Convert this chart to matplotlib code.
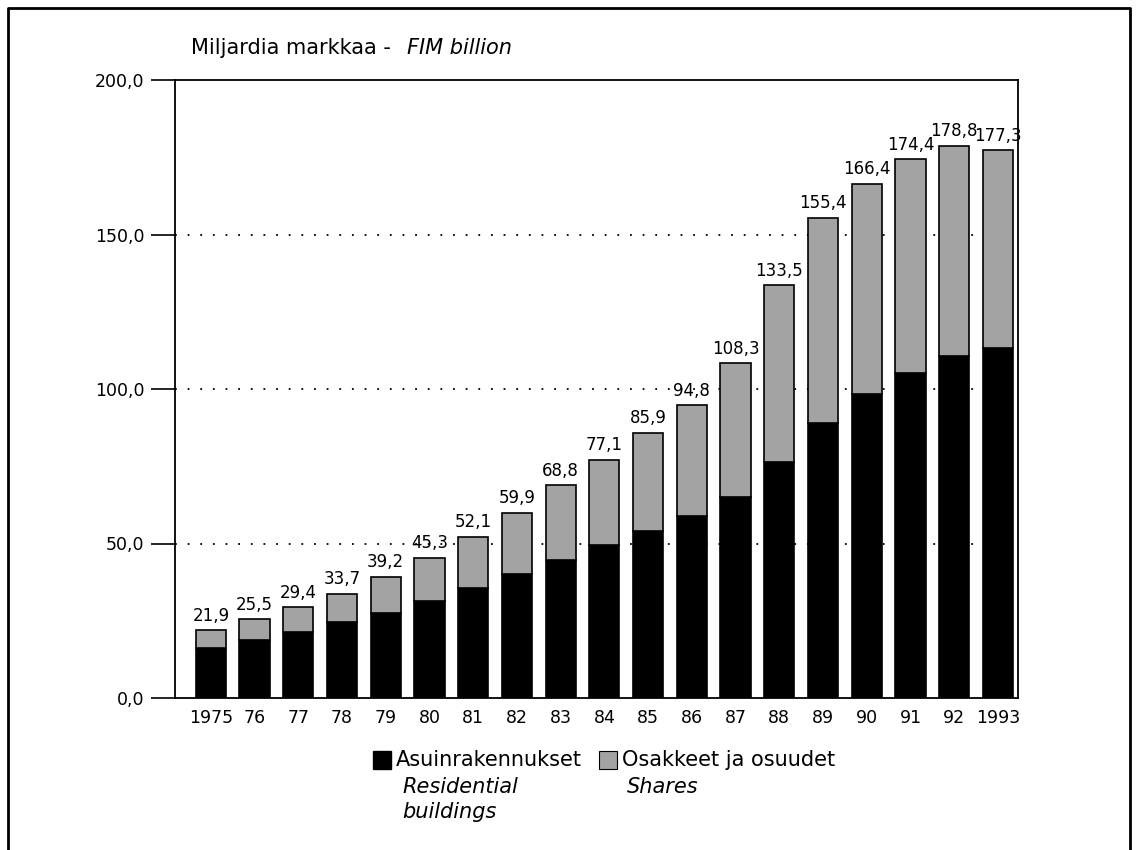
import matplotlib
matplotlib.use("Agg")
from matplotlib import pyplot as plt
from matplotlib.lines import Line2D
from matplotlib.patches import Rectangle

plt.rcParams['font.family'] = ['DejaVu Sans']

# Data (FIM billion)
years = ['1975', '76', '77', '78', '79', '80', '81', '82', '83', '84',
         '85', '86', '87', '88', '89', '90', '91', '92', '1993']
totals = [21.9, 25.5, 29.4, 33.7, 39.2, 45.3, 52.1, 59.9, 68.8, 77.1,
          85.9, 94.8, 108.3, 133.5, 155.4, 166.4, 174.4, 178.8, 177.3]
residential = [16.3, 18.8, 21.5, 24.5, 27.6, 31.4, 35.5, 40.1, 44.8, 49.4,
               54.2, 58.8, 65.0, 76.5, 88.9, 98.3, 105.1, 110.8, 113.3]
shares = [round(t - r, 1) for t, r in zip(totals, residential)]
yticks = [0, 50, 100, 150, 200]

W, H = 1137, 850
FS = 12.5   # numbers
TS = 15     # words
fig = plt.figure(figsize=(W / 100, H / 100), dpi=100)
ax = fig.add_axes([175 / W, (H - 698) / H, (1018 - 175) / W, (698 - 80) / H])

x = list(range(len(years)))
gray = '#a3a3a3'
ax.bar(x, residential, width=0.69, color='black', edgecolor='black', linewidth=1.2, zorder=3)
ax.bar(x, shares, bottom=residential, width=0.69, color=gray, edgecolor='black', linewidth=1.2, zorder=3)

for xi, t in zip(x, totals):
    ax.annotate(f'{t:.1f}'.replace('.', ','), (xi, t), xytext=(0, 4), textcoords='offset points',
                ha='center', va='bottom', fontsize=12, zorder=4)

ax.set_xlim(-0.82, 18.46)
ax.set_ylim(0, 200)
ax.set_yticks(yticks)
ax.set_yticklabels([f'{v:.1f}'.replace('.', ',') for v in yticks], fontsize=FS)
ax.tick_params(axis='y', length=17, width=1.2, direction='out', pad=5)
ax.set_xticks(x)
ax.set_xticklabels(years, fontsize=FS)
ax.tick_params(axis='x', length=0, pad=8)
for v in yticks[1:-1]:
    ax.axhline(v, color='black', linestyle=(0, (1, 6)), linewidth=1.3, zorder=1)
for s in ax.spines.values():
    s.set_linewidth(1.3)

# title
fig.text(191 / W, 1 - 48 / H, 'Miljardia markkaa -', fontsize=TS, va='center')
fig.text(407 / W, 1 - 48 / H, 'FIM billion', fontsize=TS, va='center', style='italic')

# legend
fig.add_artist(Rectangle((373 / W, 1 - 769 / H), 18 / W, 18 / H, transform=fig.transFigure,
                         facecolor='black', edgecolor='black'))
fig.text(396 / W, 1 - 760 / H, 'Asuinrakennukset', fontsize=TS, va='center')
fig.text(402 / W, 1 - 787 / H, 'Residential', fontsize=TS, va='center', style='italic')
fig.text(402 / W, 1 - 812 / H, 'buildings', fontsize=TS, va='center', style='italic')
fig.add_artist(Rectangle((599 / W, 1 - 769 / H), 18 / W, 18 / H, transform=fig.transFigure,
                         facecolor=gray, edgecolor='black', linewidth=0.8))
fig.text(622 / W, 1 - 760 / H, 'Osakkeet ja osuudet', fontsize=TS, va='center')
fig.text(627 / W, 1 - 787 / H, 'Shares', fontsize=TS, va='center', style='italic')

# outer frame (bottom edge runs off the page)
fig.add_artist(Line2D([8 / W, 8 / W, 1130 / W, 1130 / W], [0, 1 - 8 / H, 1 - 8 / H, 0],
                      transform=fig.transFigure, color='black', linewidth=2))

fig.savefig('out.png', dpi=100)
